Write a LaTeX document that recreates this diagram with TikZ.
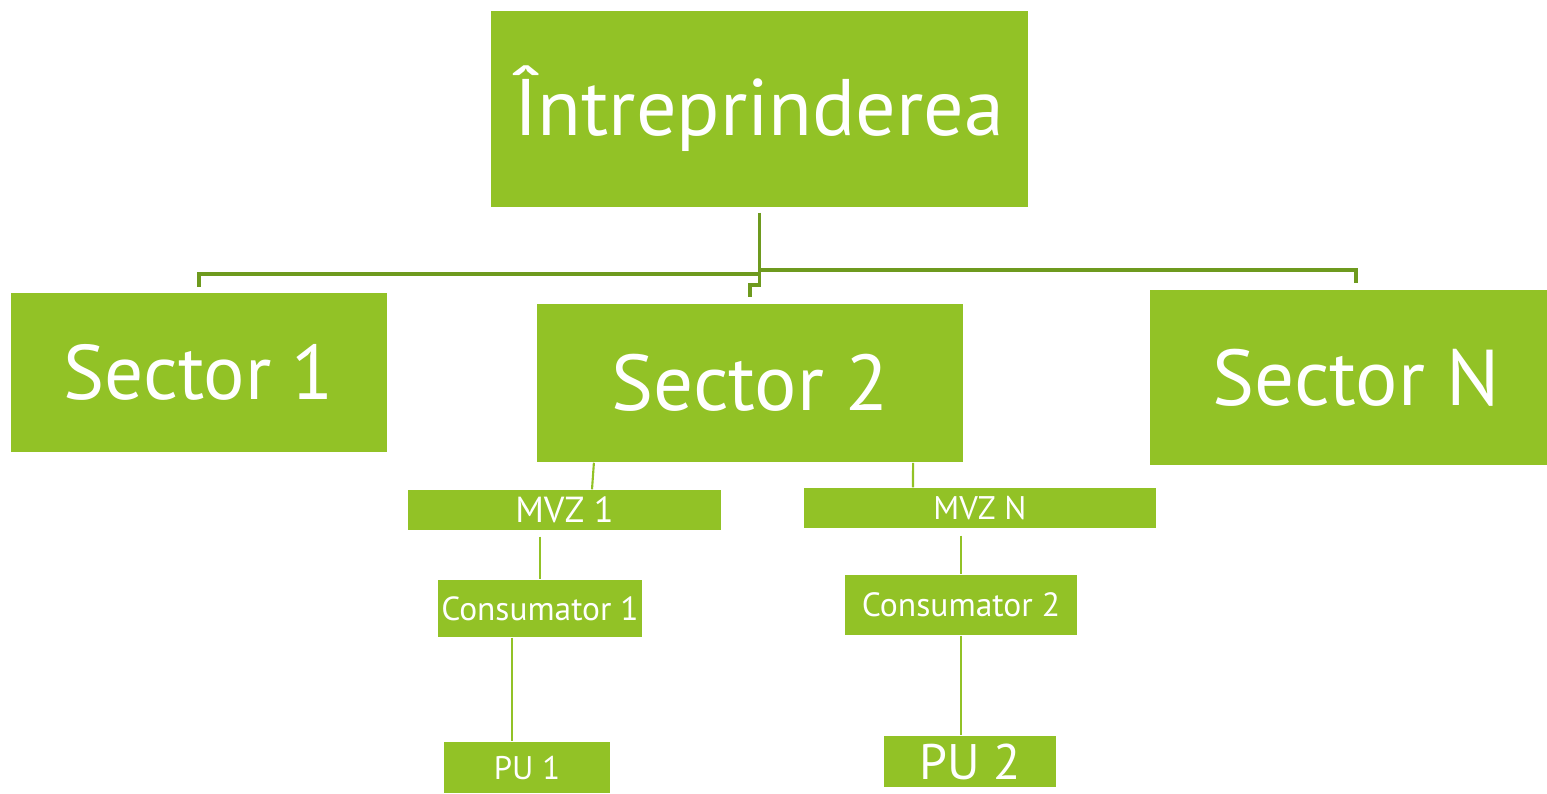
\documentclass[tikz,border=0pt]{standalone}
\usepackage{fontspec}
\setmainfont{PT Sans}
\definecolor{boxgreen}{HTML}{92C226}
\definecolor{linegreen}{HTML}{6E9A1E}
\begin{document}
\begin{tikzpicture}[x=0.01cm,y=-0.01cm,
  box/.style={fill=boxgreen, draw=none, text=white, inner sep=0pt, anchor=center},
  conn/.style={draw=linegreen, line width=1.1pt},
  sub/.style={draw=boxgreen, line width=0.6pt}]
\useasboundingbox (0,0) rectangle (1547,793);
\node[box, minimum width=5.37cm, minimum height=1.96cm] (top) at (759.5,109) {\fontsize{22.8}{22.8}\selectfont Întreprinderea};
\node[box, minimum width=3.76cm, minimum height=1.59cm] (s1) at (199,372.5) {\fontsize{22}{22}\selectfont Sector 1};
\node[box, minimum width=4.26cm, minimum height=1.58cm] (s2) at (750,383) {\fontsize{22.5}{22.5}\selectfont Sector 2};
\node[box, minimum width=3.97cm, minimum height=1.75cm] (sN) at (1348.5,377.5) {\fontsize{22.5}{22.5}\selectfont\hspace*{0.15cm}Sector N};
\node[box, minimum width=3.13cm, minimum height=0.40cm] (mvz1) at (564.5,510) {\fontsize{10.3}{10.3}\selectfont MVZ 1};
\node[box, minimum width=3.52cm, minimum height=0.40cm] (mvzN) at (980,508) {\fontsize{9.3}{9.3}\selectfont MVZ N};
\node[box, minimum width=2.04cm, minimum height=0.57cm] (c1) at (540,608.5) {\fontsize{9.5}{9.5}\selectfont Consumator 1};
\node[box, minimum width=2.32cm, minimum height=0.60cm] (c2) at (961,605) {\fontsize{9.55}{9.55}\selectfont Consumator 2};
\node[box, minimum width=1.66cm, minimum height=0.51cm] (pu1) at (527,767.5) {\fontsize{9.3}{9.3}\selectfont PU 1};
\node[box, minimum width=1.72cm, minimum height=0.51cm] (pu2) at (970,761.5) {\fontsize{14.2}{14.2}\selectfont PU 2};
% top connectors
\coordinate (hub) at ([yshift=-0.05cm]top.south);
\draw[conn] (hub) -- ++(0,61) -| ([yshift=0.05cm]s1.north);
\draw[conn] ([yshift=-0.57cm]hub) -| ([xshift=0.075cm,yshift=0.06cm]sN.north);
\draw[conn] (hub) -- ++(0,72) -| ([yshift=0.06cm]s2.north);
% lower connectors
\draw[sub] ([xshift=-1.56cm]s2.south) -- ([xshift=0.275cm]mvz1.north);
\draw[sub] ([xshift=1.63cm]s2.south) -- ([xshift=-0.67cm]mvzN.north);
\draw[sub] ([yshift=-0.06cm]mvz1.south -| c1.north) -- (c1.north);
\draw[sub] ([yshift=-0.07cm]mvzN.south -| c2.north) -- (c2.north);
\draw[sub] ([xshift=-0.28cm]c1.south) -- ([xshift=-0.28cm]c1.south |- pu1.north);
\draw[sub] (c2.south) -- (c2.south |- pu2.north);
\end{tikzpicture}
\end{document}
